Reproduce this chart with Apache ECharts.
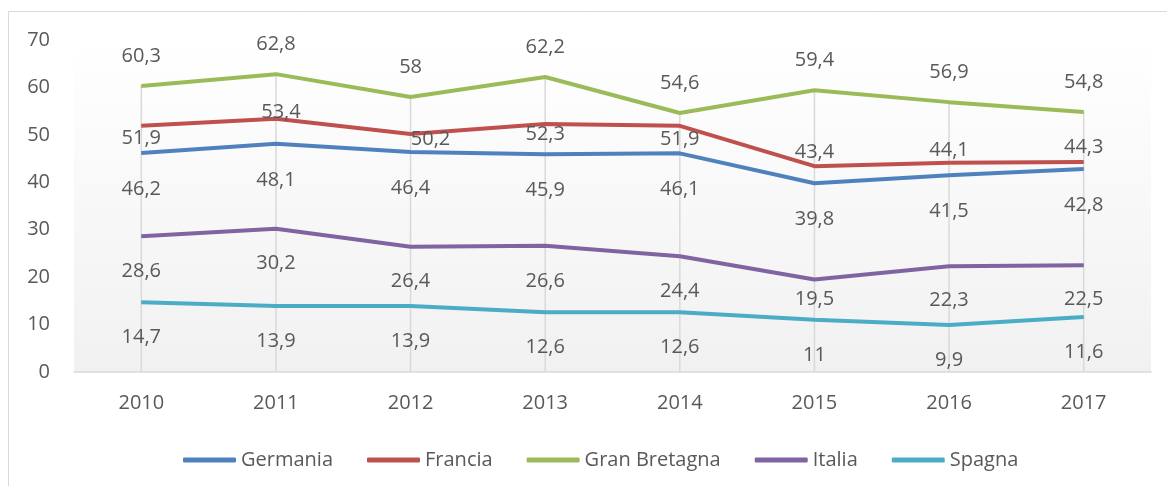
<!DOCTYPE html>
<html>
<head>
<meta charset="utf-8">
<script src="https://cdn.jsdelivr.net/npm/echarts@6/dist/echarts.min.js"></script>
<style>
  html, body { margin: 0; padding: 0; background: #fff; }
  #chart { width: 1167px; height: 486px; }
</style>
</head>
<body>
<div id="chart"></div>
<script>
// dati
const anni = ['2010', '2011', '2012', '2013', '2014', '2015', '2016', '2017'];
const germania = [46.2, 48.1, 46.4, 45.9, 46.1, 39.8, 41.5, 42.8];
const francia = [51.9, 53.4, 50.2, 52.3, 51.9, 43.4, 44.1, 44.3];
const granBretagna = [60.3, 62.8, 58, 62.2, 54.6, 59.4, 56.9, 54.8];
const italia = [28.6, 30.2, 26.4, 26.6, 24.4, 19.5, 22.3, 22.5];
const spagna = [14.7, 13.9, 13.9, 12.6, 12.6, 11, 9.9, 11.6];

// spostamento etichette (come nel grafico originale)
const franciaLabelOffsets = [[0, 12], [5, -6], [20, 5], [0, 10], [0, 13], [0, -14], [0, -13], [0, -15]];
const italiaLabelOffsets = [[0, 35], [0, 35], [0, 35], [0, 35], [0, 35], [0, 20], [0, 34], [0, 34]];

const textColor = '#595959';
const fontFamily = '"Open Sans", sans-serif';

const chart = echarts.init(document.getElementById('chart'));

// linee verticali dal punto più alto fino all'asse
const dropLines = anni.map((_, i) =>
  Math.max(germania[i], francia[i], granBretagna[i], italia[i], spagna[i])
);

const lineSerie = (name, data, color, offsetY) => ({
  name,
  type: 'line',
  data,
  symbol: 'circle',
  symbolSize: 1,
  z: 3,
  lineStyle: { width: 4, color },
  itemStyle: { color },
  label: {
    show: true,
    position: 'inside',
    offset: [0, offsetY],
    color: textColor,
    fontSize: 20,
    fontFamily,
    formatter: p => String(p.value).replace('.', ',')
  }
});

const withOffsets = (values, offsets) =>
  values.map((v, i) => ({ value: v, label: { offset: offsets[i] } }));

const option = {
  animation: false,
  graphic: [{
    type: 'rect',
    shape: { x: 8.5, y: 11.5, width: 1300, height: 600 },
    style: { fill: 'none', stroke: '#d9d9d9', lineWidth: 1 },
    silent: true
  }],
  grid: {
    left: 74,
    right: 16,
    top: 40,
    bottom: 114,
    show: true,
    borderWidth: 0,
    backgroundColor: new echarts.graphic.LinearGradient(0, 0, 0, 1, [
      { offset: 0, color: '#ffffff' },
      { offset: 1, color: '#f1f1f1' }
    ])
  },
  legend: {
    data: ['Germania', 'Francia', 'Gran Bretagna', 'Italia', 'Spagna'],
    left: 178,
    top: 445,
    icon: 'roundRect',
    itemWidth: 53,
    itemHeight: 5,
    itemGap: 34,
    textStyle: { color: textColor, fontSize: 20, fontFamily }
  },
  xAxis: {
    type: 'category',
    data: anni,
    boundaryGap: true,
    axisTick: { show: false },
    axisLine: { lineStyle: { color: '#d9d9d9', width: 1.5 } },
    axisLabel: { color: textColor, fontSize: 20, fontFamily, margin: 21 },
    splitLine: { show: false }
  },
  yAxis: {
    type: 'value',
    min: 0,
    max: 70,
    interval: 10,
    axisLine: { show: false },
    axisTick: { show: false },
    splitLine: { show: false },
    axisLabel: { color: textColor, fontSize: 20, fontFamily, margin: 24 }
  },
  series: [
    {
      name: 'drop',
      type: 'bar',
      data: dropLines,
      barWidth: 1.5,
      z: 1,
      silent: true,
      itemStyle: { color: '#d9d9d9' }
    },
    lineSerie('Germania', germania, '#4f81bd', 36),
    { ...lineSerie('Francia', francia, '#c0504d', 0), data: withOffsets(francia, franciaLabelOffsets) },
    lineSerie('Gran Bretagna', granBretagna, '#9bbb59', -30),
    { ...lineSerie('Italia', italia, '#8064a2', 35), data: withOffsets(italia, italiaLabelOffsets) },
    lineSerie('Spagna', spagna, '#4bacc6', 35)
  ]
};

chart.setOption(option);
</script>
</body>
</html>
